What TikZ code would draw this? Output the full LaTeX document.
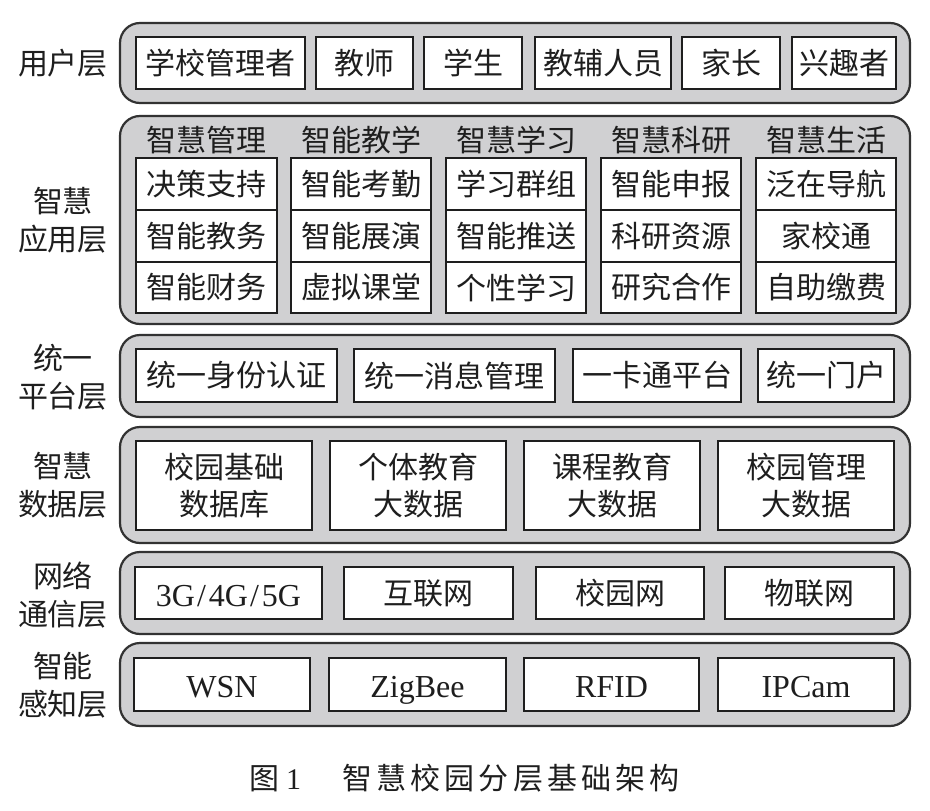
\documentclass[tikz,border=0pt]{standalone}
\usepackage{fontspec}
\setmainfont{Noto Sans CJK SC}
\newfontfamily\lat{Liberation Serif}
\newfontfamily\capfont[LetterSpace=14]{Noto Sans CJK SC}
\definecolor{layerfill}{RGB}{208,208,210}
\definecolor{layerline}{RGB}{50,50,50}
\definecolor{ink}{RGB}{30,30,30}
\tikzset{
  layerbox/.style={draw=layerline, line width=2.2pt, fill=layerfill, rounded corners=20pt, inner sep=0pt},
  ibox/.style={draw=ink, line width=2pt, fill=white, inner sep=0pt, align=center, text=ink, font=\fontsize{30}{37}\selectfont},
  lbl/.style={align=center, text=ink, inner sep=0pt, font=\fontsize{30}{38}\selectfont},
  hdr/.style={text=ink, inner sep=0pt, font=\fontsize{30}{37}\selectfont},
}
\newcommand\bx[7][ibox]{\node[#1,minimum width={(#4-#3)*1pt},minimum height={(#6-#5)*1pt}] (#2) at ({(#3+#4)/2},{(#5+#6)/2}) {#7};}
\newcommand\lt[1]{{\lat\fontsize{32}{37}\selectfont\raisebox{-2.5pt}[21.2pt][0pt]{#1}}}
\begin{document}
\begin{tikzpicture}[x=1pt,y=-1pt]
\useasboundingbox (0,0) rectangle (930,811);
% layers
\bx[layerbox]{L1}{120}{910}{23}{103}{}
\bx[layerbox]{L2}{120}{910}{116}{324}{}
\bx[layerbox]{L3}{120}{910}{335}{417}{}
\bx[layerbox]{L4}{120}{910}{427}{543}{}
\bx[layerbox]{L5}{120}{910}{552}{634}{}
\bx[layerbox]{L6}{120}{910}{643}{726}{}
% labels
\node[lbl] (t1) at (63,63) {用户层};
\node[lbl] (t2) at (63,220) {智慧\\应用层};
\node[lbl] (t3) at (63,377) {统一\\平台层};
\node[lbl] (t4) at (63,485) {智慧\\数据层};
\node[lbl] (t5) at (63,595) {网络\\通信层};
\node[lbl] (t6) at (63,685) {智能\\感知层};
% user layer
\bx{u1}{136}{305}{37}{89}{学校管理者}
\bx{u2}{316}{413}{37}{89}{教师}
\bx{u3}{424}{522}{37}{89}{学生}
\bx{u4}{535}{671}{37}{89}{教辅人员}
\bx{u5}{682}{780}{37}{89}{家长}
\bx{u6}{792}{896}{37}{89}{兴趣者}
% application layer headers
\node[hdr] (h1) at (206.5,140) {智慧管理};
\node[hdr] (h2) at (361,140) {智能教学};
\node[hdr] (h3) at (516,140) {智慧学习};
\node[hdr] (h4) at (671,140) {智慧科研};
\node[hdr] (h5) at (826,140) {智慧生活};
% application layer rows
\bx{a11}{136}{277}{158}{210}{决策支持}
\bx{a12}{136}{277}{210}{262}{智能教务}
\bx{a13}{136}{277}{262}{313}{智能财务}
\bx{a21}{291}{431}{158}{210}{智能考勤}
\bx{a22}{291}{431}{210}{262}{智能展演}
\bx{a23}{291}{431}{262}{313}{虚拟课堂}
\bx{a31}{446}{586}{158}{210}{学习群组}
\bx{a32}{446}{586}{210}{262}{智能推送}
\bx{a33}{446}{586}{262}{313}{个性学习}
\bx{a41}{601}{741}{158}{210}{智能申报}
\bx{a42}{601}{741}{210}{262}{科研资源}
\bx{a43}{601}{741}{262}{313}{研究合作}
\bx{a51}{756}{896}{158}{210}{泛在导航}
\bx{a52}{756}{896}{210}{262}{家校通}
\bx{a53}{756}{896}{262}{313}{自助缴费}
% platform layer
\bx{p1}{136}{337}{349}{402}{统一身份认证}
\bx{p2}{354}{555}{349}{402}{统一消息管理}
\bx{p3}{573}{741}{349}{402}{一卡通平台}
\bx{p4}{758}{894}{349}{402}{统一门户}
% data layer
\bx{d1}{136}{312}{441}{530}{校园基础\\数据库}
\bx{d2}{330}{506}{441}{530}{个体教育\\大数据}
\bx{d3}{524}{700}{441}{530}{课程教育\\大数据}
\bx{d4}{718}{894}{441}{530}{校园管理\\大数据}
% network layer
\bx{n1}{135}{322}{567}{619}{\lt{3G\kern2pt/\kern3pt4G\kern2pt/\kern3pt5G}}
\bx{n2}{344}{513}{567}{619}{互联网}
\bx{n3}{536}{704}{567}{619}{校园网}
\bx{n4}{725}{894}{567}{619}{物联网}
% sensing layer
\bx{s1}{134}{310}{658}{711}{\lt{WSN}}
\bx{s2}{329}{506}{658}{711}{\lt{ZigBee}}
\bx{s3}{524}{699}{658}{711}{\lt{RFID}}
\bx{s4}{718}{894}{658}{711}{\lt{IPCam}}
% caption
\node[text=ink, inner sep=0pt, anchor=west, font=\fontsize{30}{37}\selectfont] (cap) at (249,778) {图\hspace{7pt}{\lat 1}\hspace{41pt}{\capfont 智慧校园分层基础架构}};
\end{tikzpicture}
\end{document}
